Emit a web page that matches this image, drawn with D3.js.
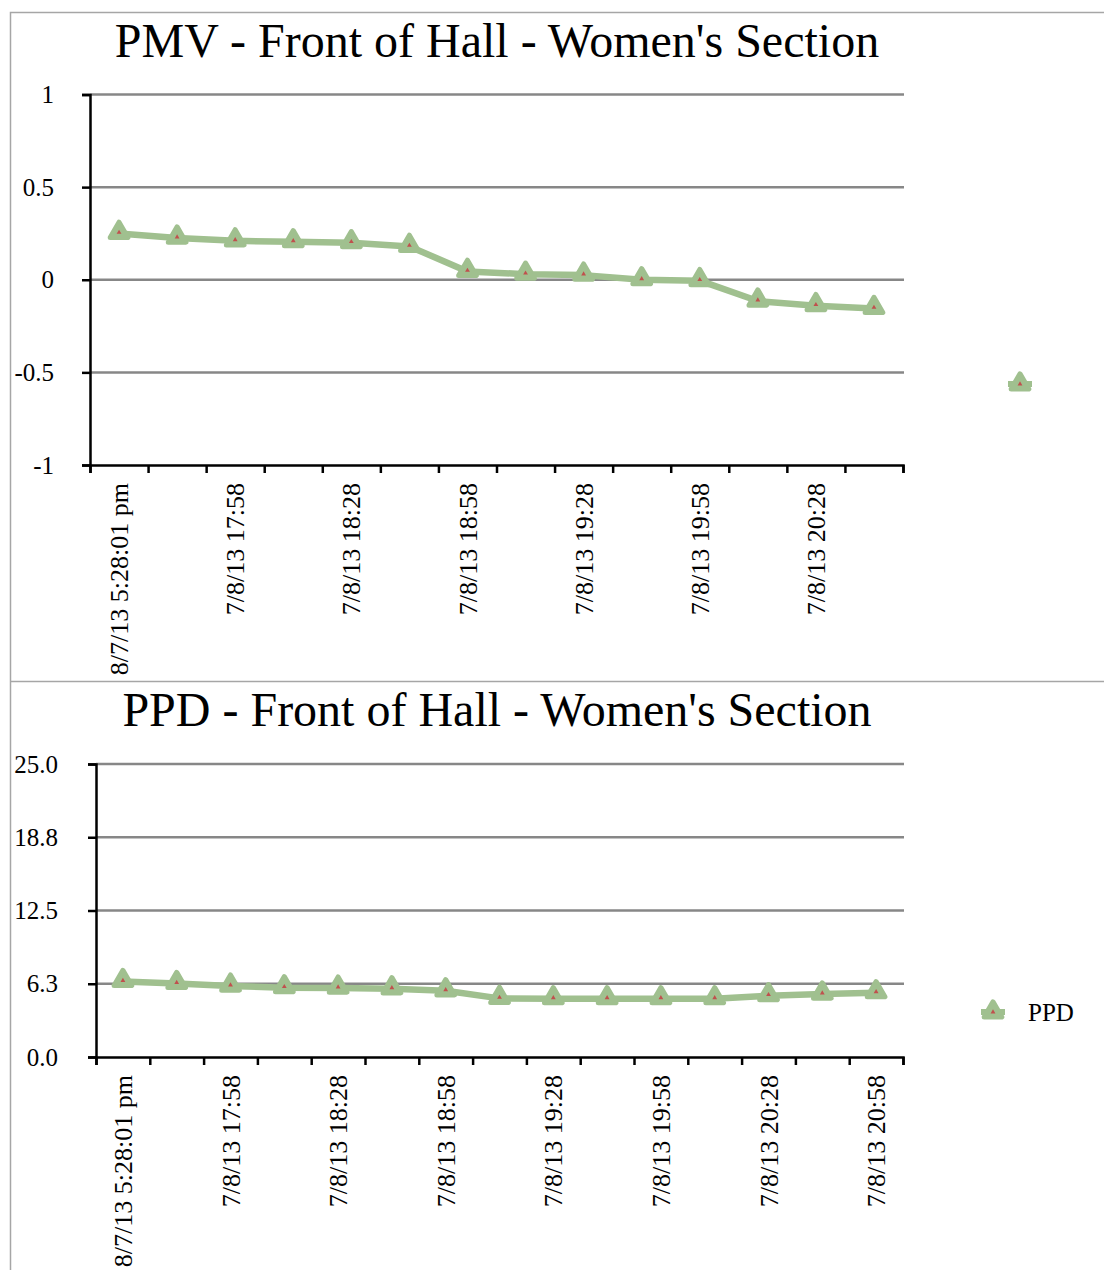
<!DOCTYPE html>
<html>
<head>
<meta charset="utf-8">
<script src="https://cdn.jsdelivr.net/npm/d3@7"></script>
<style>
	body { margin: 0; background: #fff; }
	svg { display: block; }
	svg text { font-family: "Liberation Serif", "Times New Roman", serif; }
</style>
</head>
<body>
<svg id="chart" width="1104" height="1270"></svg>
<script>
// Sample times (15 min apart), only every second one is labelled
let times = [
	"8/7/13 5:28:01 pm", "7/8/13 17:43", "7/8/13 17:58", "7/8/13 18:13",
	"7/8/13 18:28", "7/8/13 18:43", "7/8/13 18:58", "7/8/13 19:13",
	"7/8/13 19:28", "7/8/13 19:43", "7/8/13 19:58", "7/8/13 20:13",
	"7/8/13 20:28", "7/8/13 20:43", "7/8/13 20:58"
]
let pmvValues = [0.25, 0.225, 0.21, 0.205, 0.2, 0.18, 0.045, 0.03, 0.025, 0.0, -0.005, -0.115, -0.14, -0.155]
let ppdValues = [6.44, 6.27, 6.05, 5.91, 5.88, 5.82, 5.65, 5.0, 4.97, 4.97, 4.97, 4.97, 5.23, 5.37, 5.48]
let pmvTicks = [1, 0.5, 0, -0.5, -1]
let ppdTicks = [0, 6.25, 12.5, 18.75, 25]

let green = "#a0c08f"
let red = "#c0504d"
let grid = "#878787"
let serif = "Liberation Serif"

let svg = d3.select("#chart")

// panel frame
svg.append("path")
	.attr("d", "M1104,12.5H10.5V1270M10.5,681.5H1104")
	.attr("fill", "none")
	.attr("stroke", "#a6a6a6")
	.attr("stroke-width", 1.5)

function marker(g) {
	g.append("path")
		.attr("d", d3.symbol(d3.symbolTriangle, 135))
		.attr("fill", green)
		.attr("stroke", green)
		.attr("stroke-width", 5)
		.attr("stroke-linejoin", "round")
	g.append("path")
		.attr("d", d3.symbol(d3.symbolTriangle, 10))
		.attr("fill", red)
}

function panel(opts) {
	let { title, titleY, cats, values, yDomain, yTicks, fmt, left, right, top, bottom, labelX, legend } = opts

	let x = d3.scaleBand().domain(cats).range([left, right])
	let y = d3.scaleLinear().domain(yDomain).range([bottom, top])
	let g = svg.append("g")

	g.append("text")
		.attr("x", 497)
		.attr("y", titleY)
		.attr("text-anchor", "middle")
		.style("font-family", serif)
		.style("font-size", "48px")
		.text(title)

	// horizontal gridlines
	g.selectAll("line.grid")
		.data(yTicks.filter(d => d != yDomain[0]))
		.join("line")
		.attr("class", "grid")
		.attr("x1", left).attr("x2", right + 1)
		.attr("y1", d => y(d)).attr("y2", d => y(d))
		.attr("stroke", grid)
		.attr("stroke-width", 2.5)

	// y axis
	let yAxis = g.append("g")
		.attr("transform", `translate(${left},0)`)
		.call(d3.axisLeft(y).tickValues(yTicks).tickSize(8).tickFormat(fmt))
	yAxis.select(".domain").attr("stroke", "#000").attr("stroke-width", 2.5)
	yAxis.selectAll(".tick line").attr("stroke", "#000").attr("stroke-width", 2.5)
	yAxis.selectAll(".tick text")
		.attr("x", labelX - left)
		.attr("fill", "#000")
		.style("font-family", serif)
		.style("font-size", "25px")

	// x axis: ticks on the band edges
	let xi = d3.scaleLinear().domain([0, cats.length]).range([left, right])
	let xAxis = g.append("g")
		.attr("transform", `translate(0,${bottom})`)
		.call(d3.axisBottom(xi).ticks(cats.length).tickSize(8).tickFormat(""))
	xAxis.select(".domain").attr("stroke", "#000").attr("stroke-width", 2.5)
	xAxis.selectAll(".tick line").attr("stroke", "#000").attr("stroke-width", 2.5)

	g.selectAll("text.xlab")
		.data(cats.filter((d, i) => i % 2 == 0))
		.join("text")
		.attr("class", "xlab")
		.attr("transform", d => `translate(${x(d) + x.bandwidth() / 2},${bottom + 18}) rotate(-90)`)
		.attr("dy", "0.35em")
		.attr("text-anchor", "end")
		.style("font-family", serif)
		.style("font-size", "26px")
		.text(d => d)

	// series
	let pts = values.map((v, i) => [x(cats[i]) + x.bandwidth() / 2, y(v)])
	g.append("path")
		.attr("d", d3.line()(pts))
		.attr("fill", "none")
		.attr("stroke", green)
		.attr("stroke-width", 6.5)
		.attr("stroke-linejoin", "round")
	g.selectAll("g.pt")
		.data(pts)
		.join("g")
		.attr("class", "pt")
		.attr("transform", d => `translate(${d[0]},${d[1] - 1})`)
		.call(marker)

	// legend entry
	let lg = g.append("g").attr("transform", `translate(${legend.x},${legend.y})`)
	lg.append("line")
		.attr("x1", -12).attr("x2", 12)
		.attr("stroke", green).attr("stroke-width", 6)
	lg.append("g").call(marker)
	if (legend.label)
		lg.append("text")
			.attr("x", 35)
			.attr("dy", "0.35em")
			.style("font-family", serif)
			.style("font-size", "25px")
			.text(legend.label)
}

panel({
	title: "PMV - Front of Hall - Women's Section",
	titleY: 57,
	cats: times.slice(0, pmvValues.length),
	values: pmvValues,
	yDomain: [-1, 1],
	yTicks: pmvTicks,
	fmt: d => String(d),
	left: 90, right: 903, top: 94.5, bottom: 465,
	labelX: 54,
	legend: { x: 1020, y: 384, label: "" }
})

panel({
	title: "PPD - Front of Hall - Women's Section",
	titleY: 726,
	cats: times,
	values: ppdValues,
	yDomain: [0, 25],
	yTicks: ppdTicks,
	fmt: d3.format(".1f"),
	left: 96, right: 903, top: 764, bottom: 1057,
	labelX: 58,
	legend: { x: 993, y: 1012, label: "PPD" }
})
</script>
</body>
</html>
